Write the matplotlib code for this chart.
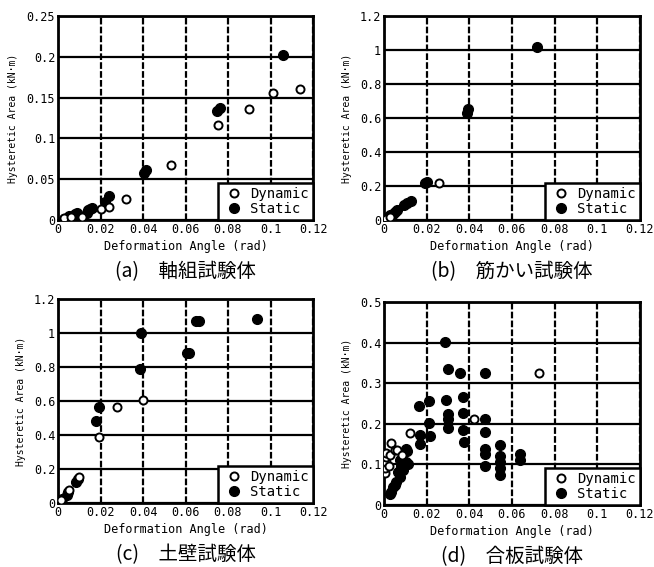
import matplotlib
matplotlib.use("Agg")
import matplotlib.pyplot as plt
from matplotlib.ticker import FuncFormatter

# (a) 軸組試験体
a_dyn_x = [0.003, 0.006, 0.0115, 0.020, 0.024, 0.032, 0.053, 0.0755, 0.090, 0.101, 0.114]
a_dyn_y = [0.002, 0.004, 0.004, 0.013, 0.016, 0.026, 0.068, 0.116, 0.136, 0.156, 0.161]
a_sta_x = [0.003, 0.004, 0.005, 0.008, 0.009, 0.0135, 0.014, 0.015, 0.016,
           0.022, 0.024, 0.0405, 0.0415, 0.075, 0.076, 0.106]
a_sta_y = [0.001, 0.003, 0.005, 0.007, 0.009, 0.009, 0.012, 0.014, 0.015,
           0.022, 0.029, 0.057, 0.061, 0.134, 0.137, 0.202]

# (b) 筋かい試験体
b_dyn_x = [0.001, 0.003, 0.0258]
b_dyn_y = [0.005, 0.020, 0.220]
b_sta_x = [0.0005, 0.002, 0.003, 0.004, 0.005, 0.006, 0.0095, 0.011, 0.0125,
           0.019, 0.020, 0.0388, 0.0395, 0.0715]
b_sta_y = [0.003, 0.015, 0.028, 0.038, 0.048, 0.058, 0.088, 0.100, 0.112,
           0.215, 0.222, 0.628, 0.655, 1.02]

# (c) 土壁試験体
c_dyn_x = [0.0015, 0.005, 0.0097, 0.0193, 0.0278, 0.0402]
c_dyn_y = [0.015, 0.075, 0.155, 0.388, 0.567, 0.605]
c_sta_x = [0.0005, 0.002, 0.004, 0.0045, 0.0085, 0.0093, 0.018, 0.0192, 0.0388,
           0.039, 0.0605, 0.0615, 0.065, 0.0665, 0.0935]
c_sta_y = [0.005, 0.022, 0.048, 0.062, 0.125, 0.140, 0.484, 0.567, 0.786,
           1.002, 0.880, 0.885, 1.068, 1.072, 1.082]

# (d) 合板試験体
d_dyn_x = [0.0003, 0.0005, 0.001, 0.001, 0.0008, 0.0035, 0.003, 0.005, 0.006,
           0.0085, 0.0025, 0.012, 0.042, 0.0725]
d_dyn_y = [0.078, 0.090, 0.106, 0.119, 0.128, 0.152, 0.122, 0.135, 0.135,
           0.124, 0.095, 0.178, 0.211, 0.326]
d_sta_x = [0.0003, 0.003, 0.0035, 0.0042, 0.005, 0.0055, 0.0074, 0.0066, 0.0089,
           0.0081, 0.0105, 0.0074, 0.0113, 0.0105, 0.0108,
           0.0164, 0.0211, 0.0211, 0.0167, 0.0167, 0.0214,
           0.0286, 0.0302, 0.0358, 0.0472,
           0.0292, 0.0368, 0.0302, 0.0302, 0.0368, 0.0472, 0.0302, 0.037, 0.0374, 0.0472,
           0.0546, 0.0472, 0.0472, 0.0546, 0.0546, 0.0472, 0.0546, 0.0546, 0.0638, 0.0638]
d_sta_y = [0.110, 0.026, 0.032, 0.044, 0.049, 0.057, 0.069, 0.082, 0.086,
           0.096, 0.106, 0.110, 0.102, 0.139, 0.133,
           0.244, 0.256, 0.201, 0.172, 0.150, 0.170,
           0.401, 0.335, 0.326, 0.326,
           0.258, 0.266, 0.224, 0.213, 0.227, 0.212, 0.189, 0.185, 0.156, 0.179,
           0.148, 0.137, 0.125, 0.120, 0.106, 0.096, 0.090, 0.075, 0.125, 0.112]

x_ticks = [0, 0.02, 0.04, 0.06, 0.08, 0.1, 0.12]
a_yticks = [0, 0.05, 0.1, 0.15, 0.2, 0.25]
bc_yticks = [0, 0.2, 0.4, 0.6, 0.8, 1.0, 1.2]
d_yticks = [0, 0.1, 0.2, 0.3, 0.4, 0.5]

captions = ["(a)\u3000軸組試験体", "(b)\u3000筋かい試験体",
            "(c)\u3000土壁試験体", "(d)\u3000合板試験体"]

mono = "DejaVu Sans Mono"
cjk = ["Noto Sans CJK JP", "DejaVu Sans"]

fig = plt.figure(figsize=(6.54, 5.67), dpi=100)

W, H = 654, 567
boxes = [(58, 16, 313, 220), (384, 16, 640, 220),
         (58, 299, 313, 503), (384, 302, 640, 505)]
panels = [
    (a_dyn_x, a_dyn_y, a_sta_x, a_sta_y, a_yticks),
    (b_dyn_x, b_dyn_y, b_sta_x, b_sta_y, bc_yticks),
    (c_dyn_x, c_dyn_y, c_sta_x, c_sta_y, bc_yticks),
    (d_dyn_x, d_dyn_y, d_sta_x, d_sta_y, d_yticks),
]

fmt = FuncFormatter(lambda v, p: "%g" % v)

for (l, t, r, b), (dx, dy, sx, sy, yt), cap in zip(boxes, panels, captions):
    ax = fig.add_axes([l / W, 1 - b / H, (r - l) / W, (b - t) / H])
    ax.set_xlim(0, 0.12)
    ax.set_ylim(yt[0], yt[-1])
    ax.set_xticks(x_ticks)
    ax.set_yticks(yt)
    ax.xaxis.set_major_formatter(fmt)
    ax.yaxis.set_major_formatter(fmt)
    ax.tick_params(length=0, pad=2, labelsize=8.5)
    for lab in ax.get_xticklabels() + ax.get_yticklabels():
        lab.set_family(mono)
    for sp in ax.spines.values():
        sp.set_linewidth(2)
    ax.grid(axis="y", color="k", lw=1.6, ls="-")
    ax.grid(axis="x", color="k", lw=1.6, ls=(0, (3, 1)))
    ax.set_axisbelow(True)

    # static first so the open circles stay visible on top
    hs, = ax.plot(sx, sy, "o", ms=7, mfc="k", mec="k", ls="none", zorder=3)
    hd, = ax.plot(dx, dy, "o", ms=5.8, mfc="white", mec="k", mew=1.4, ls="none", zorder=4)

    ax.set_xlabel("Deformation Angle (rad)", family=mono, fontsize=8.5, labelpad=3)
    ax.set_ylabel("Hysteretic Area (kN\u00b7m)", family=mono, fontsize=7, labelpad=6)

    leg = ax.legend([hd, hs], ["Dynamic", "Static"], loc="lower right",
                    borderaxespad=0, fancybox=False, framealpha=1,
                    edgecolor="k", handlelength=1.6, handletextpad=0.4,
                    labelspacing=0.05, borderpad=0.3,
                    prop={"family": mono, "size": 10})
    leg.get_frame().set_linewidth(1.8)
    leg.set_zorder(5)

    fig.text((l + r) / 2 / W, 1 - (b + 52) / H, cap, family=cjk,
             fontsize=14, ha="center", va="center")

fig.savefig("out.png", dpi=100)
